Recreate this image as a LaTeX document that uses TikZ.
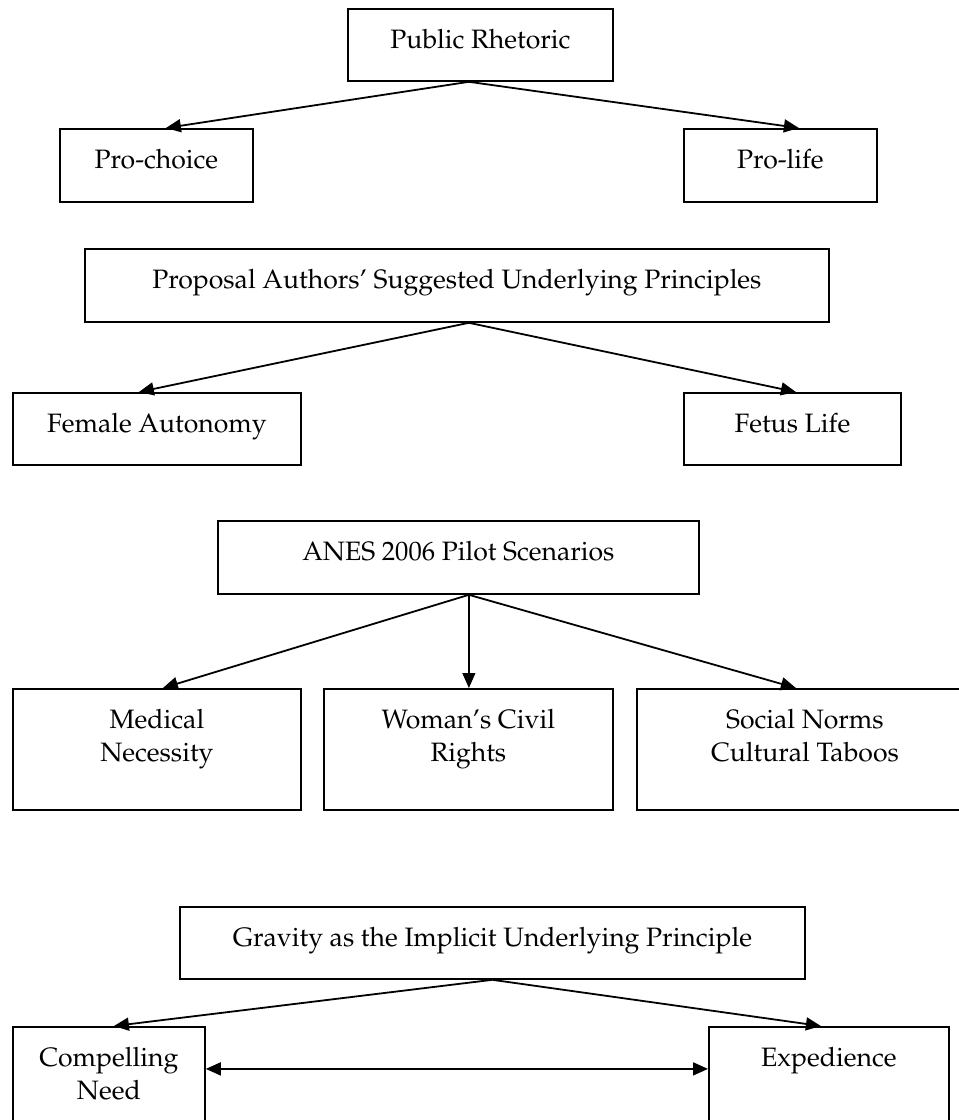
\documentclass[tikz,border=0pt]{standalone}
\usepackage[T1]{fontenc}
\usepackage{mathpazo}
\usetikzlibrary{arrows.meta}

\begin{document}
\begin{tikzpicture}[x=1pt,y=-1pt,
    box/.style={draw, line width=1.8pt, anchor=north west, inner xsep=0pt, inner ysep=0pt,
      text height=40pt, font=\fontsize{26.6}{33}\selectfont},
    arr/.style={line width=1.8pt, -{Triangle[length=15pt,width=13pt]}}]
  \useasboundingbox (0,0) rectangle (959,1120);
  \clip (0,0) rectangle (959,1120);

  % public rhetoric
  \node[box, minimum width=265pt, text depth=32pt] (rhet) at (347,8) {Public Rhetoric};
  \node[box, minimum width=193pt, text depth=33pt] (choice) at (59,128) {Pro-choice};
  \node[box, minimum width=193pt, text depth=33pt] (life) at (683,128) {Pro-life};
  \draw[arr] ([xshift=-11.5pt]rhet.south) -- ([xshift=9.5pt]choice.north);
  \draw[arr] ([xshift=-11.5pt]rhet.south) -- ([xshift=18.5pt]life.north);

  % suggested principles
  \node[box, minimum width=744pt, text depth=33pt] (propo) at (84,248) {Proposal Authors' Suggested Underlying Principles};
  \node[box, minimum width=288pt, text depth=32pt] (female) at (12,392) {Female Autonomy};
  \node[box, minimum width=217pt, text depth=32pt] (fetus) at (683,392) {Fetus Life};
  \draw[arr] ([xshift=12pt]propo.south) -- ([xshift=-18pt]female.north);
  \draw[arr] ([xshift=12pt]propo.south) -- ([xshift=3.5pt]fetus.north);

  % anes scenarios
  \node[box, minimum width=481pt, text depth=33pt] (anes) at (217,520) {ANES 2006 Pilot Scenarios};
  \node[box, minimum width=288pt, text depth=81pt] (medic) at (12,688)
    {\begin{tabular}[t]{@{}c@{}}Medical\\Necessity\end{tabular}};
  \node[box, minimum width=289pt, text depth=81pt] (rights) at (323,688)
    {\begin{tabular}[t]{@{}c@{}}Woman's Civil\\Rights\end{tabular}};
  \node[box, minimum width=336pt, text depth=81pt] (norms) at (636,688)
    {\begin{tabular}[t]{@{}c@{}}Social Norms\\Cultural Taboos\end{tabular}};
  \draw[arr] ([xshift=10.5pt]anes.south) -- ([xshift=6pt]medic.north);
  \draw[arr, line width=1.3pt] ([xshift=10.5pt]anes.south) -- ([xshift=0.5pt]rights.north);
  \draw[arr] ([xshift=10.5pt]anes.south) -- ([xshift=-9pt]norms.north);

  % gravity
  \node[box, minimum width=625pt, text depth=32pt] (grav) at (179,906) {Gravity as the Implicit Underlying Principle};
  \node[box, minimum width=192pt, text depth=80pt] (need) at (12,1026)
    {\begin{tabular}[t]{@{}c@{}}Compelling\\Need\end{tabular}};
  \node[box, minimum width=240pt, text depth=80pt] (exped) at (708,1026) {Expedience};
  \draw[arr] (grav.south) -- ([xshift=5pt]need.north);
  \draw[arr] (grav.south) -- ([xshift=-8pt]exped.north);
  \draw[arr, {Triangle[length=15pt,width=13pt]}-{Triangle[length=15pt,width=13pt]}]
    ([yshift=18pt]need.east) -- ([yshift=18pt]exped.west);
\end{tikzpicture}
\end{document}
